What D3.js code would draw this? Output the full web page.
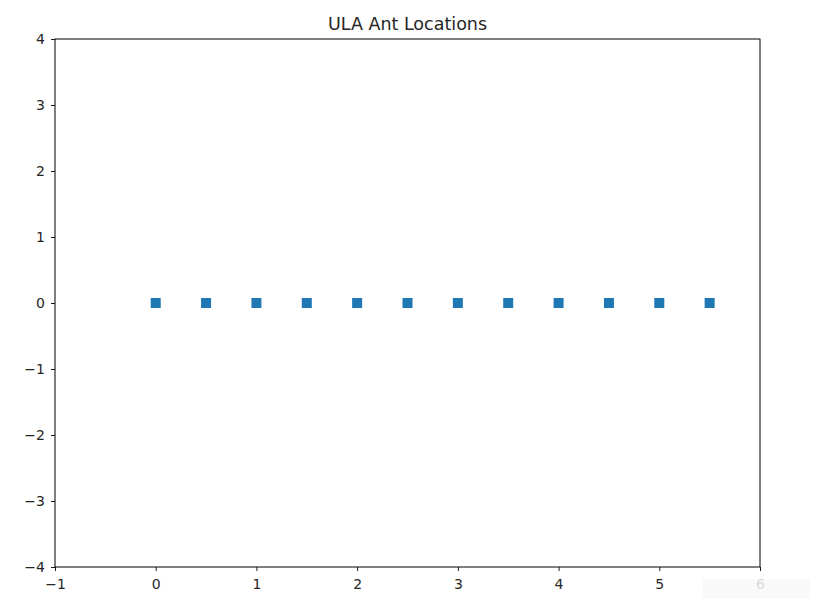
<!DOCTYPE html>
<html>
<head>
<meta charset="utf-8">
<script src="https://cdn.jsdelivr.net/npm/d3@7"></script>
<style>
  body { margin: 0; background: #fff; }
  text { font-family: "DejaVu Sans", sans-serif; fill: #262626; }
</style>
</head>
<body>
<svg id="chart" width="819" height="606"></svg>
<script>
// antenna positions
var antX = [0, 0.5, 1, 1.5, 2, 2.5, 3, 3.5, 4, 4.5, 5, 5.5];
var antY = [0, 0, 0, 0, 0, 0, 0, 0, 0, 0, 0, 0];
var xTicks = [-1, 0, 1, 2, 3, 4, 5, 6];
var yTicks = [-4, -3, -2, -1, 0, 1, 2, 3, 4];
var title = 'ULA Ant Locations';

(function() {
  var svg = d3.select('#chart');
  var mLeft = 55, mRight = 760, mTop = 39, mBottom = 567;

  var x = d3.scaleLinear().domain([-1, 6]).range([mLeft, mRight]);
  var y = d3.scaleLinear().domain([-4, 4]).range([mBottom, mTop]);

  var fmt = function(d) { return d < 0 ? '\u2212' + Math.abs(d) : '' + d; };

  // axes
  var gx = svg.append('g')
    .attr('transform', 'translate(0,' + mBottom + ')')
    .call(d3.axisBottom(x).tickValues(xTicks).tickFormat(fmt).tickSizeOuter(0).tickSize(4).tickPadding(8));
  var gy = svg.append('g')
    .attr('transform', 'translate(' + mLeft + ',0)')
    .call(d3.axisLeft(y).tickValues(yTicks).tickFormat(fmt).tickSizeOuter(0).tickSize(4).tickPadding(6));
  [gx, gy].forEach(function(g) {
    g.attr('font-size', 14).attr('font-family', '"DejaVu Sans", sans-serif');
    g.select('.domain').remove();
    g.selectAll('line').attr('stroke', '#000').attr('stroke-width', 0.9);
    g.selectAll('text').attr('fill', '#262626');
  });

  // frame
  svg.append('rect')
    .attr('x', mLeft).attr('y', mTop)
    .attr('width', mRight - mLeft).attr('height', mBottom - mTop)
    .attr('fill', 'none').attr('stroke', '#000').attr('stroke-width', 1);

  // markers
  var s = 10;
  svg.append('g').selectAll('rect')
    .data(antX)
    .enter().append('rect')
    .attr('x', function(d) { return x(d) - s / 2; })
    .attr('y', function(d, i) { return y(antY[i]) - s / 2; })
    .attr('width', s).attr('height', s)
    .attr('fill', '#1f77b4');

  // title
  svg.append('text')
    .attr('x', (mLeft + mRight) / 2).attr('y', 30)
    .attr('text-anchor', 'middle')
    .attr('font-size', '17.5px')
    .text(title);

  // faint overlay box in the lower right corner
  svg.append('rect')
    .attr('x', 703).attr('y', 579).attr('width', 107).attr('height', 20)
    .attr('fill', '#f8f8f8').attr('opacity', 0.85);
})();
</script>
</body>
</html>
